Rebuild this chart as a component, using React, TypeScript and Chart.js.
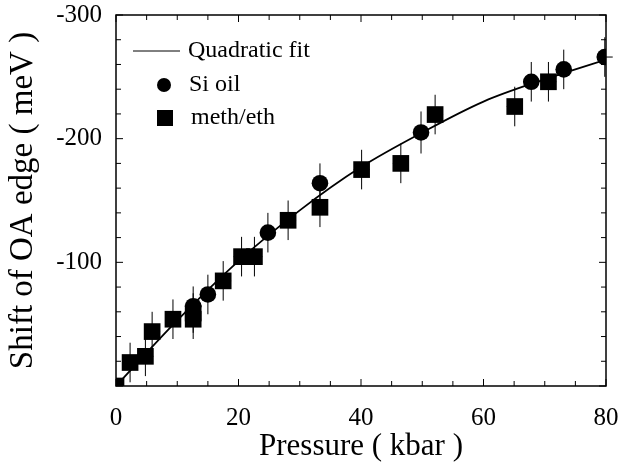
import { useEffect, useRef } from 'react';
import { Chart, registerables } from 'chart.js';

Chart.register(...registerables);

const FONT = '"Liberation Serif", "Times New Roman", serif';

// Quadratic fit curve
const fitX = [0, 10, 20, 30, 40, 50, 60, 70, 80];
const fitY = [0, -53, -101, -142, -177, -205, -230, -248, -264];

// Si oil (circles)
const siX = [12.6, 15.0, 24.8, 33.3, 49.8, 67.8, 73.1, 79.8];
const siY = [-64.5, -74, -124, -164, -205, -246, -256, -266];
const siErr = [16, 16, 16, 16, 17, 16, 16, 16];

// meth/eth (squares)
const methX = [0, 2.3, 4.8, 5.9, 9.3, 12.6, 12.6, 17.5, 20.5, 22.6, 28.1, 33.3, 40.1, 46.5, 52.1, 65.1, 70.6];
const methY = [0, -19, -24, -44, -54, -54, -59, -85, -104.6, -104.6, -134, -144.5, -175, -180, -219.5, -226, -246];
const methErr = [0, 16, 16, 16, 16, 16, 16, 16, 16, 16, 16, 16, 16, 16, 16, 16, 16];

const xErr = 1.3;

const xTickStep = 20;
const yTickStep = 100;

const errorBars = {
  id: 'errorBars',
  beforeDatasetsDraw(chart: any) {
    const { ctx, scales } = chart;
    const x = scales.x, y = scales.y;
    ctx.save();
    ctx.strokeStyle = '#000';
    ctx.lineWidth = 1;
    chart.data.datasets.forEach((ds: any) => {
      if (!ds.yErr) return;
      ds.data.forEach((p: any, i: number) => {
        const e = ds.yErr[i];
        if (!e) return;
        const px = x.getPixelForValue(p.x);
        const y1 = y.getPixelForValue(p.y - e);
        const y2 = y.getPixelForValue(p.y + e);
        ctx.beginPath();
        ctx.moveTo(px, y1);
        ctx.lineTo(px, y2);
        const py = y.getPixelForValue(p.y);
        ctx.moveTo(x.getPixelForValue(p.x - xErr), py);
        ctx.lineTo(x.getPixelForValue(p.x + xErr), py);
        ctx.stroke();
      });
    });
    ctx.restore();
  },
};

const frame = {
  id: 'frame',
  afterDraw(chart: any) {
    const { ctx, chartArea: a, scales } = chart;
    const x = scales.x, y = scales.y;
    ctx.save();
    ctx.strokeStyle = '#000';
    ctx.lineWidth = 1.5;
    ctx.strokeRect(a.left, a.top, a.right - a.left, a.bottom - a.top);
    ctx.lineWidth = 1;
    ctx.beginPath();
    for (let v = 0; v <= 80; v += 5) {
      const px = x.getPixelForValue(v);
      const len = v % 20 === 0 ? 7 : 5;
      ctx.moveTo(px, a.bottom);
      ctx.lineTo(px, a.bottom - len);
      ctx.moveTo(px, a.top);
      ctx.lineTo(px, a.top + len);
    }
    for (let v = -300; v <= 0; v += 20) {
      const py = y.getPixelForValue(v);
      const len = v % 100 === 0 ? 7 : 5;
      ctx.moveTo(a.left, py);
      ctx.lineTo(a.left + len, py);
      ctx.moveTo(a.right, py);
      ctx.lineTo(a.right - len, py);
    }
    ctx.stroke();

    // legend
    const lx = a.left;
    const ly = a.top;
    ctx.fillStyle = '#000';
    ctx.font = `24px ${FONT}`;
    ctx.textBaseline = 'middle';
    ctx.textAlign = 'left';
    ctx.beginPath();
    ctx.moveTo(lx + 17, ly + 36);
    ctx.lineTo(lx + 64, ly + 36);
    ctx.stroke();
    ctx.fillText('Quadratic fit', lx + 72, ly + 36);
    ctx.beginPath();
    ctx.arc(lx + 48, ly + 70, 7, 0, Math.PI * 2);
    ctx.fill();
    ctx.fillText('Si oil', lx + 73, ly + 70);
    ctx.fillRect(lx + 41, ly + 95, 16, 16);
    ctx.fillText('meth/eth', lx + 75, ly + 103);
    ctx.restore();
  },
};

export default function App() {
  const ref = useRef<HTMLCanvasElement | null>(null);
  useEffect(() => {
    if (!ref.current) return;
    const chart = new Chart(ref.current, {
      type: 'scatter',
      data: {
        datasets: [
          {
            type: 'line',
            label: 'Quadratic fit',
            data: fitX.map((v, i) => ({ x: v, y: fitY[i] })),
            borderColor: '#000',
            borderWidth: 1.8,
            pointRadius: 0,
            cubicInterpolationMode: 'monotone',
            fill: false,
          } as any,
          {
            label: 'Si oil',
            data: siX.map((v, i) => ({ x: v, y: siY[i] })),
            yErr: siErr,
            pointStyle: 'circle',
            pointRadius: 8.3,
            backgroundColor: '#000',
            borderColor: '#000',
            borderWidth: 0,
          } as any,
          {
            label: 'meth/eth',
            data: methX.map((v, i) => ({ x: v, y: methY[i] })),
            yErr: methErr,
            pointStyle: 'rect',
            pointRadius: 11.8,
            backgroundColor: '#000',
            borderColor: '#000',
            borderWidth: 0,
            clip: 0,
          } as any,
        ],
      },
      options: {
        animation: false,
        responsive: false,
        layout: { padding: { top: 15, right: 25, bottom: 0, left: 0 } },
        plugins: { legend: { display: false }, tooltip: { enabled: false } },
        scales: {
          x: {
            type: 'linear',
            min: 0,
            max: 80,
            ticks: { stepSize: xTickStep, color: '#000', font: { family: FONT, size: 25 }, padding: 17, maxRotation: 0 },
            grid: { display: false, drawTicks: false },
            border: { display: false },
            title: { display: true, text: 'Pressure ( kbar )', color: '#000', font: { family: FONT, size: 31, lineHeight: 0.95 }, padding: { top: 0, bottom: 0 } },
            afterFit(s: any) {
              s.height = 76;
              s.paddingLeft = 0;
              s.paddingRight = 0;
            },
          },
          y: {
            type: 'linear',
            min: -300,
            max: 0,
            reverse: true,
            ticks: {
              stepSize: yTickStep,
              color: '#000',
              font: { family: FONT, size: 25 },
              padding: 14,
              callback: (v: any) => (v === 0 ? '' : String(v)),
            },
            grid: { display: false, drawTicks: false },
            border: { display: false },
            title: { display: true, text: 'Shift of OA edge ( meV )', color: '#000', font: { family: FONT, size: 33, lineHeight: 1.2 }, padding: { top: 4, bottom: 0 } },
            afterFit(s: any) {
              s.width = 116;
              s.paddingTop = 0;
              s.paddingBottom = 0;
            },
          },
        },
      } as any,
      plugins: [errorBars, frame],
    });
    return () => chart.destroy();
  }, []);
  return (
    <div style={{ position: 'fixed', left: 0, top: 0, width: 631, height: 462, background: '#fff' }}>
      <canvas ref={ref} width={631} height={462} style={{ display: 'block' }} />
    </div>
  );
}
